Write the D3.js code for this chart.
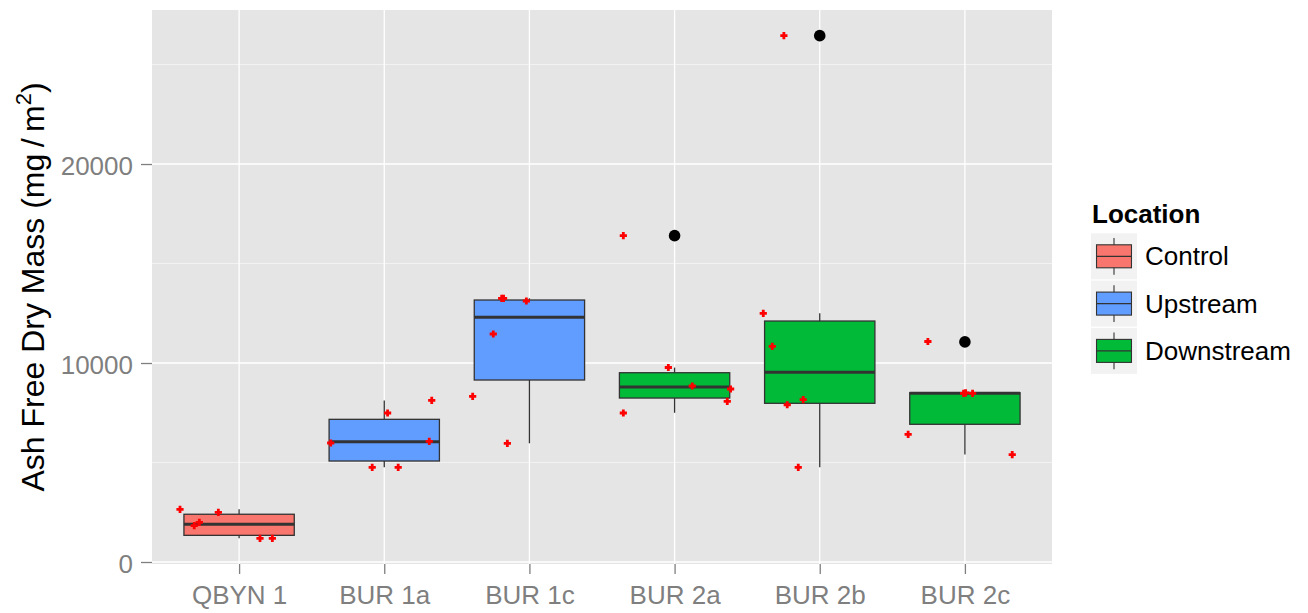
<!DOCTYPE html>
<html>
<head>
<meta charset="utf-8">
<script src="https://cdn.jsdelivr.net/npm/d3@7"></script>
<style>
  html, body { margin: 0; padding: 0; background: #ffffff; }
  svg { display: block; }
  text { font-family: "Liberation Sans", Arial, sans-serif; }
</style>
</head>
<body>
<svg id="chart" width="1308" height="613"></svg>
<script>
// ---------------- data ----------------
const categories = ["QBYN 1", "BUR 1a", "BUR 1c", "BUR 2a", "BUR 2b", "BUR 2c"];
const locations  = ["Control", "Upstream", "Downstream"];
const categoryLocation = ["Control", "Upstream", "Upstream", "Downstream", "Downstream", "Downstream"];

// box statistics
const whiskerLow  = [1190, 4760, 5965, 7500, 4760, 5400];
const q1          = [1340, 5075, 9146, 8240, 7975, 6920];
const median      = [1895, 6045, 12296, 8795, 9530, 8480];
const q3          = [2400, 7170, 13166, 9512, 12110, 8507];
const whiskerHigh = [2650, 8120, 13251, 9770, 12497, 8507];

// outliers (black dots)
const outlierCategory = ["BUR 2a", "BUR 2b", "BUR 2c"];
const outlierValue    = [16400, 26450, 11060];

// jittered raw observations (red crosses): value and horizontal jitter (in category units)
const pointValues = {
  "QBYN 1": [2648, 2497, 1995, 1824, 1191, 1191],
  "BUR 1a": [8120, 7487, 5980, 6065, 4760, 4760],
  "BUR 1c": [13251, 13251, 13116, 11457, 8327, 5965],
  "BUR 2a": [9775, 8844, 8693, 8075, 7487, 16400],
  "BUR 2b": [12497, 10839, 7904, 8156, 4760, 26450],
  "BUR 2c": [8477, 8477, 8495, 6417, 5400, 11080]
};
const pointJitter = {
  "QBYN 1": [-0.407, -0.143, -0.274, -0.309, 0.144, 0.229],
  "BUR 1a": [0.327, 0.023, -0.369, 0.310, -0.083, 0.096],
  "BUR 1c": [-0.191, -0.178, -0.021, -0.249, -0.391, -0.152],
  "BUR 2a": [-0.043, 0.122, 0.386, 0.363, -0.353, -0.353],
  "BUR 2b": [-0.389, -0.327, -0.224, -0.114, -0.148, -0.247],
  "BUR 2c": [-0.009, 0.053, 0.005, -0.391, 0.326, -0.255]
};

const majorTicks = [0, 10000, 20000];
const minorTicks = [5000, 15000, 25000];
const yDomain = [-100, 27740];

const fillColors = ["#F8766D", "#619CFF", "#00BA38"];
const yTitle = "Ash Free Dry Mass";
const legendTitle = "Location";

// ---------------- layout ----------------
const panel = { left: 152, right: 1052, top: 10, bottom: 564 };
const svg = d3.select("#chart");

const x = d3.scalePoint().domain(categories).range([panel.left, panel.right]).padding(0.6);
const y = d3.scaleLinear().domain(yDomain).range([panel.bottom, panel.top]);
const color = d3.scaleOrdinal().domain(locations).range(fillColors);
const step = x.step();
const boxW = step * 0.76;

// panel background
svg.append("rect")
  .attr("x", panel.left).attr("y", panel.top)
  .attr("width", panel.right - panel.left).attr("height", panel.bottom - panel.top)
  .attr("fill", "#E5E5E5");

// minor grid
svg.append("g").selectAll("line").data(minorTicks).join("line")
  .attr("x1", panel.left).attr("x2", panel.right)
  .attr("y1", d => y(d)).attr("y2", d => y(d))
  .attr("stroke", "#F2F2F2").attr("stroke-width", 1);

// major grid (horizontal)
svg.append("g").selectAll("line").data(majorTicks).join("line")
  .attr("x1", panel.left).attr("x2", panel.right)
  .attr("y1", d => y(d)).attr("y2", d => y(d))
  .attr("stroke", "#FFFFFF").attr("stroke-width", 1.3);

// major grid (vertical)
svg.append("g").selectAll("line").data(categories).join("line")
  .attr("x1", d => x(d)).attr("x2", d => x(d))
  .attr("y1", panel.top).attr("y2", panel.bottom)
  .attr("stroke", "#FFFFFF").attr("stroke-width", 1.3);

// ---------------- axes ----------------
const yAxis = d3.axisLeft(y).tickValues(majorTicks).tickSize(11).tickPadding(8).tickFormat(d3.format("d"));
const gy = svg.append("g").attr("transform", `translate(${panel.left},0)`).call(yAxis);
gy.select(".domain").remove();
gy.selectAll(".tick line").attr("stroke", "#7F7F7F").attr("stroke-width", 1.3);
gy.selectAll(".tick text")
  .attr("fill", "#7F7F7F").attr("font-size", 26)
  .attr("font-family", "Liberation Sans, Arial, sans-serif")
  .attr("dy", "0.42em");

const xAxis = d3.axisBottom(x).tickSize(10).tickPadding(12);
const gx = svg.append("g").attr("transform", `translate(0,${panel.bottom})`).call(xAxis);
gx.select(".domain").remove();
gx.selectAll(".tick line").attr("stroke", "#7F7F7F").attr("stroke-width", 1.3);
gx.selectAll(".tick text")
  .attr("fill", "#7F7F7F").attr("font-size", 26)
  .attr("font-family", "Liberation Sans, Arial, sans-serif")
  .attr("dy", "0.71em");

// ---------------- boxplots ----------------
const boxes = categories.map((c, i) => ({
  cat: c, loc: categoryLocation[i],
  lo: whiskerLow[i], q1: q1[i], med: median[i], q3: q3[i], hi: whiskerHigh[i]
}));

const gb = svg.append("g");
const stroke = "#333333";
// whiskers
gb.selectAll("line.wu").data(boxes).join("line").attr("class", "wu")
  .attr("x1", d => x(d.cat)).attr("x2", d => x(d.cat))
  .attr("y1", d => y(d.q3)).attr("y2", d => y(d.hi))
  .attr("stroke", stroke).attr("stroke-width", 1.3);
gb.selectAll("line.wl").data(boxes).join("line").attr("class", "wl")
  .attr("x1", d => x(d.cat)).attr("x2", d => x(d.cat))
  .attr("y1", d => y(d.q1)).attr("y2", d => y(d.lo))
  .attr("stroke", stroke).attr("stroke-width", 1.3);
// boxes
gb.selectAll("rect").data(boxes).join("rect")
  .attr("x", d => x(d.cat) - boxW / 2).attr("width", boxW)
  .attr("y", d => y(d.q3)).attr("height", d => y(d.q1) - y(d.q3))
  .attr("fill", d => color(d.loc))
  .attr("stroke", stroke).attr("stroke-width", 1.3);
// medians
gb.selectAll("line.med").data(boxes).join("line").attr("class", "med")
  .attr("x1", d => x(d.cat) - boxW / 2).attr("x2", d => x(d.cat) + boxW / 2)
  .attr("y1", d => y(d.med)).attr("y2", d => y(d.med))
  .attr("stroke", stroke).attr("stroke-width", 3);

// outliers
svg.append("g").selectAll("circle")
  .data(outlierCategory.map((c, i) => ({ cat: c, v: outlierValue[i] })))
  .join("circle")
  .attr("cx", d => x(d.cat)).attr("cy", d => y(d.v)).attr("r", 5.8)
  .attr("fill", "#000000");

// jittered points (red crosses)
const pts = [];
categories.forEach(c => {
  pointValues[c].forEach((v, j) => pts.push({ cat: c, v: v, jit: pointJitter[c][j] }));
});
svg.append("g").selectAll("path").data(pts).join("path")
  .attr("transform", d => `translate(${x(d.cat) + d.jit * step},${y(d.v)})`)
  .attr("d", "M-3.6,0H3.6M0,-3.6V3.6")
  .attr("stroke", "#FF0000").attr("stroke-width", 2.8).attr("fill", "none");

// ---------------- y title ----------------
const yt = svg.append("text")
  .attr("transform", `translate(44,${(panel.top + panel.bottom) / 2}) rotate(-90)`)
  .attr("text-anchor", "middle")
  .attr("font-size", 32).attr("fill", "#000000");
yt.append("tspan").text(yTitle + " (mg\u2009/\u2009m");
yt.append("tspan").attr("font-size", 22).attr("dy", -13).text("2");
yt.append("tspan").attr("dy", 13).text(")");

// ---------------- legend ----------------
const lg = svg.append("g").attr("transform", "translate(1091,0)");
lg.append("text").attr("x", 1).attr("y", 223)
  .attr("font-size", 26).attr("font-weight", "bold").attr("fill", "#000000")
  .text(legendTitle);

const keySize = 46, keyTop = 233.3, keyStep = 47.3;
const keys = lg.selectAll("g.key").data(locations).join("g").attr("class", "key")
  .attr("transform", (d, i) => `translate(0,${keyTop + i * keyStep})`);
keys.append("rect").attr("width", keySize).attr("height", keySize).attr("fill", "#F2F2F2");
keys.append("line")
  .attr("x1", keySize / 2).attr("x2", keySize / 2)
  .attr("y1", keySize * 0.1).attr("y2", keySize * 0.9)
  .attr("stroke", stroke).attr("stroke-width", 1.1);
keys.append("rect")
  .attr("x", keySize * 0.12).attr("width", keySize * 0.76)
  .attr("y", keySize * 0.25).attr("height", keySize * 0.5)
  .attr("fill", d => color(d)).attr("stroke", stroke).attr("stroke-width", 1.1);
keys.append("line")
  .attr("x1", keySize * 0.12).attr("x2", keySize * 0.88)
  .attr("y1", keySize * 0.5).attr("y2", keySize * 0.5)
  .attr("stroke", stroke).attr("stroke-width", 1.3);
keys.append("text")
  .attr("x", 54).attr("y", keySize / 2 + 9)
  .attr("font-size", 26).attr("fill", "#000000")
  .text(d => d);
</script>
</body>
</html>
